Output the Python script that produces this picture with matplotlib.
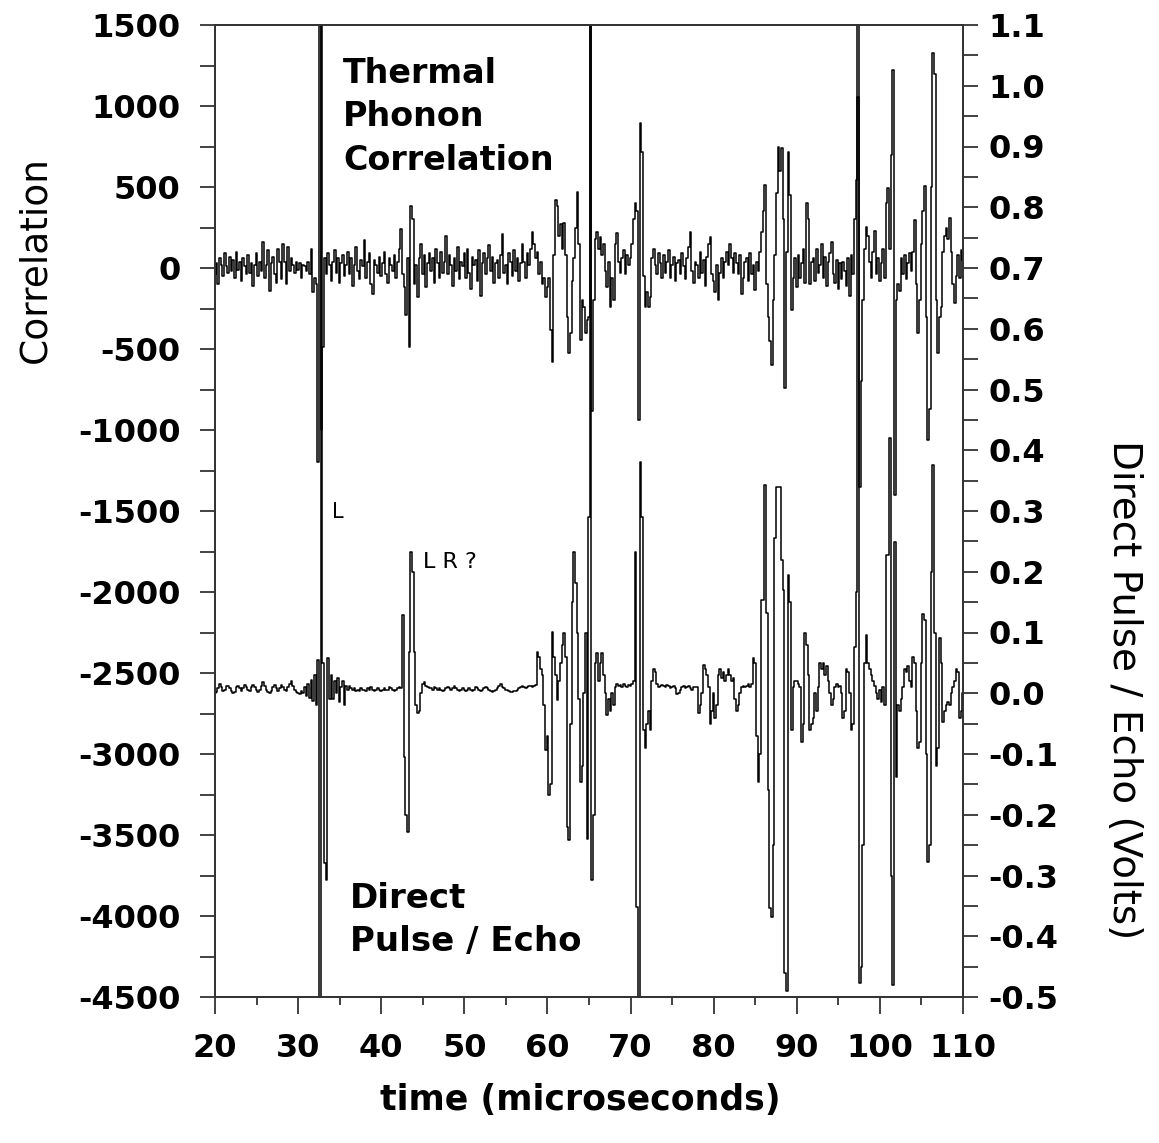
import numpy as np
import matplotlib
matplotlib.use("Agg")
import matplotlib.pyplot as plt
from matplotlib.ticker import MultipleLocator

plt.rcParams['axes.unicode_minus'] = False
plt.rcParams['font.family'] = ['DejaVu Sans']

# sampling of both traces (microseconds)
t_start, t_step = 20.0, 0.2

# thermal phonon correlation (left axis), one row = 2 microseconds
correlation = [
    -40, 30, -100, 60, 20, -50, 90, 10, -30, 70,
    -20, 50, -60, 100, -10, 40, -80, 60, 10, -40,
    80, -30, 30, -110, 20, 90, -50, 40, -20, 160,
    -60, 20, 110, -140, 30, 70, -40, -90, 120, 40,
    -70, 150, 40, -100, 130, -20, 60, 20, -30, 40,
    -10, 30, -60, 20, 10, -20, 40, -40, 120, -150,
    -60, -100, -1200, 1700, -1000, -490, 60, -40, 90, 20,
    -80, 40, 110, -30, 60, -90, 30, 80, -50, 20,
    100, -40, 60, -110, 20, 130, -20, -70, 50, 10,
    170, -60, 40, 90, -100, -160, 50, 20, -30, 70,
    -50, 30, 100, -40, -90, 60, 20, -20, 80, -60,
    40, 120, 240, -40, -120, -290, 60, -490, 380, 300,
    -100, 20, -180, 60, 150, -40, 80, -120, 30, 90,
    -20, 60, -90, 120, 30, -60, 100, -30, 40, 200,
    -40, 80, 20, -110, 60, -20, 130, -70, 40, 10,
    90, -60, 120, -30, -130, 70, 20, 50, -80, 110,
    -170, 30, 90, -40, 60, 140, -20, 70, -90, 30,
    50, -60, 80, 210, -30, 20, -100, 90, 40, -50,
    110, -20, 60, -80, 30, 150, 40, -60, 90, 20,
    120, 222, 150, 60, 100, -40, 40, -100, -60, -180,
    -120, -60, -383, -580, 80, 420, 380, 200, 270, 120,
    280, 80, -300, -525, -400, -80, 60, 250, 470, 150,
    -445, -200, -240, -400, -320, -300, 1700, -880, -200, 180,
    220, 120, 190, 80, 150, -20, -120, 40, -240, -60,
    -200, 150, 216, 40, -30, 60, 110, -40, 80, 20,
    60, 150, 300, 400, 350, -938, 895, 716, -50, -240,
    -150, -240, -180, 60, 120, 20, -40, 90, 30, -60,
    80, -30, 40, 110, -60, 20, 70, -80, 30, 50,
    -40, 90, 10, -70, 60, 130, 222, -20, -90, 40,
    20, -60, 100, -30, 50, -110, 70, 150, 190, -40,
    -80, -150, 20, -197, -30, 60, -60, 40, 100, 20,
    150, 60, -30, 90, 30, -40, 80, -160, -60, 40,
    60, -80, 90, -40, 20, -135, 40, -20, 100, 220,
    350, 512, -100, -300, -450, -600, -200, 80, 460, 747,
    600, 740, 300, -741, 100, 716, 450, -259, -60, 60,
    -120, 80, -60, 30, 120, -90, 400, 300, -100, 40,
    60, -80, 120, -30, 20, 150, -60, 70, -110, 40,
    90, 160, -40, -90, 50, -130, 30, -70, 40, -20,
    -110, 60, -175, 80, -40, 300, 543, 1056, -1350, -700,
    -200, 120, 253, 200, 40, -60, 100, 230, -40, 60,
    -80, 30, 120, -60, 400, 494, 120, 700, 1222, -1400,
    -200, -100, -140, 60, -40, 80, -70, 30, 90, -20,
    100, 296, -100, -401, -200, 150, 350, 506, -300, -1062,
    -870, 500, 1327, 1200, -200, -525, -300, -240, 100, 200,
    250, 180, 310, 100, -100, -216, -50, 80, -60, 110,
    50,
]

# direct pulse / echo voltage (right axis), one row = 2 microseconds
pulse_echo = [
    0.000, 0.002, 0.008, 0.016, 0.010, 0.004, 0.006, 0.012, 0.012, 0.008,
    0.004, 0.000, 0.002, 0.010, 0.012, 0.008, 0.004, 0.008, 0.014, 0.010,
    0.006, 0.004, 0.010, 0.014, 0.010, 0.006, 0.002, 0.006, 0.012, 0.018,
    0.012, 0.006, 0.002, 0.000, 0.004, 0.010, 0.014, 0.008, 0.004, 0.008,
    0.014, 0.010, 0.006, 0.004, 0.010, 0.016, 0.020, 0.012, 0.006, 0.002,
    0.000, -0.002, 0.004, 0.000, 0.010, -0.004, 0.016, -0.008, 0.022, -0.012,
    0.030, -0.020, 0.055, -0.600, 1.300, 0.050, -0.280, -0.307, 0.058, -0.010,
    0.030, -0.010, 0.020, 0.000, 0.025, -0.015, 0.010, 0.020, -0.020, 0.012,
    0.005, 0.012, 0.008, 0.006, 0.008, 0.004, 0.006, 0.004, 0.008, 0.006,
    0.006, 0.004, 0.008, 0.006, 0.010, 0.006, 0.004, 0.006, 0.008, 0.006,
    0.004, 0.006, 0.008, 0.006, 0.006, 0.010, 0.008, 0.006, 0.004, 0.006,
    0.008, 0.010, 0.008, 0.129, -0.105, -0.200, -0.228, 0.068, 0.233, 0.200,
    0.068, -0.020, -0.032, -0.030, 0.000, 0.015, 0.018, 0.012, 0.010, 0.008,
    0.008, 0.006, 0.010, 0.008, 0.006, 0.008, 0.006, 0.004, 0.006, 0.008,
    0.010, 0.008, 0.006, 0.008, 0.012, 0.008, 0.006, 0.004, 0.006, 0.008,
    0.006, 0.004, 0.006, 0.008, 0.006, 0.004, 0.006, 0.010, 0.008, 0.006,
    0.004, 0.006, 0.008, 0.010, 0.008, 0.006, 0.004, 0.002, 0.004, 0.006,
    0.008, 0.012, 0.016, 0.010, 0.008, 0.006, 0.006, 0.004, 0.002, 0.002,
    0.004, 0.004, 0.006, 0.008, 0.010, 0.012, 0.010, 0.008, 0.010, 0.012,
    0.012, 0.010, 0.012, 0.014, 0.068, 0.060, 0.040, 0.030, -0.020, -0.093,
    -0.070, -0.167, -0.150, 0.101, 0.060, 0.030, -0.011, 0.020, 0.050, 0.080,
    0.099, 0.060, -0.220, -0.242, -0.050, 0.150, 0.233, 0.181, 0.100, -0.010,
    -0.146, -0.120, 0.000, 0.099, -0.240, 0.290, 1.300, -0.307, -0.200, 0.050,
    0.066, 0.020, 0.050, 0.066, 0.030, 0.000, -0.036, -0.010, -0.030, 0.000,
    -0.020, 0.010, 0.016, 0.012, 0.014, 0.010, 0.016, 0.012, 0.010, 0.014,
    0.012, 0.016, 0.020, 0.233, -0.352, -0.550, 0.380, 0.290, -0.060, -0.090,
    -0.050, -0.030, -0.060, 0.020, 0.040, 0.035, 0.015, 0.010, 0.012, 0.014,
    0.012, 0.010, 0.014, 0.012, 0.008, 0.010, 0.012, 0.008, -0.002, 0.000,
    0.006, 0.010, 0.012, 0.008, 0.010, 0.012, 0.008, 0.006, 0.010, 0.010,
    0.010, -0.033, -0.020, 0.000, 0.047, 0.040, 0.030, 0.010, -0.050, -0.030,
    0.000, -0.040, -0.020, 0.030, 0.040, 0.025, 0.035, 0.020, 0.030, 0.040,
    0.030, 0.020, 0.025, -0.010, -0.030, -0.020, 0.000, 0.010, 0.012, 0.010,
    0.012, 0.015, 0.010, 0.015, 0.058, 0.050, -0.070, -0.146, -0.100, 0.153,
    0.153, 0.343, 0.132, -0.160, -0.354, -0.368, -0.250, 0.256, 0.340, 0.340,
    0.340, 0.220, 0.170, -0.460, -0.490, 0.195, 0.150, -0.060, 0.010, 0.020,
    0.020, 0.015, 0.010, -0.080, -0.050, 0.099, 0.080, 0.030, -0.060, -0.050,
    -0.040, 0.000, -0.030, 0.010, 0.050, 0.040, 0.050, 0.030, 0.045, 0.020,
    0.000, -0.020, -0.010, 0.010, 0.015, 0.010, 0.012, 0.000, -0.040, -0.030,
    0.040, 0.035, 0.000, -0.060, -0.050, 0.076, 0.167, 1.300, -0.477, -0.450,
    -0.250, 0.050, 0.096, 0.050, 0.040, 0.030, 0.020, 0.012, 0.000, -0.010,
    0.005, -0.015, 0.010, -0.020, 0.228, 0.228, 0.420, -0.300, -0.480, 0.249,
    -0.138, -0.020, -0.030, -0.010, 0.010, 0.040, 0.035, 0.045, 0.020, 0.010,
    0.060, 0.050, -0.030, -0.090, -0.080, 0.050, 0.130, 0.120, -0.100, -0.278,
    -0.250, 0.200, 0.376, 0.100, -0.120, -0.090, 0.091, 0.050, -0.047, -0.030,
    -0.020, -0.015, -0.020, 0.000, 0.010, 0.020, 0.040, 0.035, -0.040, -0.030,
    0.000,
]

# axis tick values
time_ticks = list(range(20, 111, 10))
corr_ticks = list(range(-4500, 1501, 500))
volt_tenths = list(range(-5, 12))

time_us = t_start + t_step * np.arange(len(correlation))
time_pe = t_start + t_step * np.arange(len(pulse_echo))

W, H = 1159, 1143
fig = plt.figure(figsize=(W / 100, H / 100), dpi=100)
L, R, T, B = 215, 963, 25, 997
ax = fig.add_axes([L / W, 1 - B / H, (R - L) / W, (B - T) / H])
ax2 = ax.twinx()

ax.plot(time_us, correlation, color='black', lw=1.1, drawstyle='steps-mid')
ax2.plot(time_pe, pulse_echo, color='black', lw=1.1, drawstyle='steps-mid')

ax.set_xlim(20, 110)
ax.set_ylim(-4500, 1500)
ax2.set_ylim(-0.5, 1.1)

frame_col = '#333333'
for a in (ax, ax2):
    for s in a.spines.values():
        s.set_color(frame_col)
        s.set_linewidth(1.3)

tick_size = 23

ax.set_xticks(time_ticks)
ax.set_xticklabels([str(v) for v in time_ticks])
ax.xaxis.set_minor_locator(MultipleLocator(5))
ax.set_yticks(corr_ticks)
ax.set_yticklabels([str(v) for v in corr_ticks])
ax.yaxis.set_minor_locator(MultipleLocator(250))
ax2.set_yticks([v / 10 for v in volt_tenths])
ax2.set_yticklabels([('-' if v < 0 else '') + '%d.%d' % (abs(v) // 10, abs(v) % 10)
                     for v in volt_tenths])
ax2.yaxis.set_minor_locator(MultipleLocator(0.05))

ax.tick_params(axis='x', which='major', direction='out', length=12, width=1.3,
               color=frame_col, pad=14, labelsize=tick_size)
ax.tick_params(axis='x', which='minor', direction='out', length=6, width=1.3, color=frame_col)
ax.tick_params(axis='y', which='major', direction='out', length=11, width=1.3,
               color=frame_col, pad=14, labelsize=tick_size)
ax.tick_params(axis='y', which='minor', direction='out', length=11, width=1.3, color=frame_col)
ax2.tick_params(axis='y', which='major', direction='out', length=11, width=1.3,
                color=frame_col, pad=7, labelsize=tick_size)
ax2.tick_params(axis='y', which='minor', direction='out', length=11, width=1.3, color=frame_col)

for lab in ax.get_xticklabels() + ax.get_yticklabels() + ax2.get_yticklabels():
    lab.set_fontweight('bold')

def fx(px):
    return px / W

def fy(py):
    return 1 - py / H

fig.text(fx(580), fy(1100), 'time (microseconds)', ha='center', va='center',
         fontsize=25, fontweight='bold')
fig.text(fx(35), fy(260), 'Correlation', rotation=90, ha='center', va='center',
         fontsize=27)
fig.text(fx(1124), fy(690), 'Direct Pulse / Echo (Volts)', rotation=-90,
         ha='center', va='center', fontsize=28)

fig.text(fx(343), fy(117), 'Thermal\nPhonon\nCorrelation', ha='left', va='center',
         fontsize=24, fontweight='bold', linespacing=1.42)
fig.text(fx(350), fy(920), 'Direct\nPulse / Echo', ha='left', va='center',
         fontsize=24.5, fontweight='bold', linespacing=1.42)

fig.text(fx(332), fy(512), 'L', ha='left', va='center', fontsize=15)
fig.text(fx(423), fy(562), 'L R ?', ha='left', va='center', fontsize=16)

fig.savefig('out.png', dpi=100)
